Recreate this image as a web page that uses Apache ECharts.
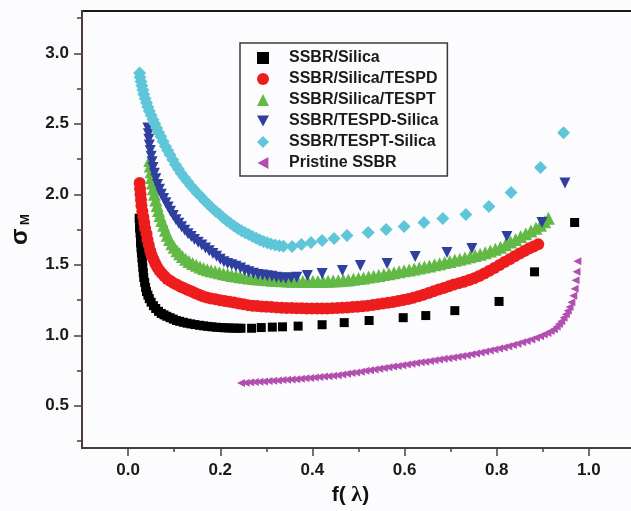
<!DOCTYPE html>
<html>
<head>
<meta charset="utf-8">
<script src="https://cdn.jsdelivr.net/npm/echarts@6/dist/echarts.min.js"></script>
<style>
  html, body { margin: 0; padding: 0; overflow: hidden; background: #fcfcfe; }
  #chart { width: 640px; height: 511px; }
</style>
</head>
<body>
<div id="chart"></div>
<script>
// f(lambda) vs reduced stress sigma_M for the six compounds
const seriesNames = [
  'SSBR/Silica',
  'SSBR/Silica/TESPD',
  'SSBR/Silica/TESPT',
  'SSBR/TESPD-Silica',
  'SSBR/TESPT-Silica',
  'Pristine SSBR'
];

const ssbrSilica = [
  [0.024,1.83],[0.025,1.795],[0.025,1.76],[0.026,1.725],[0.027,1.69],[0.027,1.655],[0.028,1.62],[0.029,1.585],
  [0.030,1.55],[0.031,1.515],[0.032,1.48],[0.033,1.445],[0.034,1.41],[0.036,1.375],[0.038,1.34],[0.040,1.31],
  [0.043,1.285],[0.046,1.26],[0.050,1.235],[0.055,1.21],[0.060,1.19],[0.066,1.17],[0.072,1.155],[0.078,1.145],
  [0.084,1.135],[0.091,1.125],[0.098,1.115],[0.105,1.105],[0.112,1.099],[0.120,1.092],[0.128,1.086],[0.136,1.081],
  [0.145,1.076],[0.155,1.071],[0.164,1.067],[0.173,1.063],[0.182,1.06],[0.192,1.057],[0.201,1.055],[0.210,1.053],
  [0.219,1.052],[0.228,1.051],[0.237,1.050],[0.245,1.050],
  [0.268,1.05],[0.289,1.055],[0.313,1.058],[0.335,1.06],[0.369,1.065],[0.421,1.075],[0.469,1.09],[0.523,1.105],
  [0.597,1.125],[0.646,1.14],[0.709,1.175],[0.805,1.24],[0.882,1.45],[0.969,1.80]
];

const ssbrSilicaTespd = [
  [0.025,2.08],[0.026,2.04],[0.027,2.0],[0.028,1.96],[0.029,1.92],[0.031,1.88],[0.033,1.84],[0.035,1.80],
  [0.037,1.76],[0.040,1.72],[0.042,1.68],[0.045,1.64],[0.048,1.60],[0.051,1.57],[0.055,1.54],[0.059,1.51],
  [0.063,1.485],[0.068,1.46],[0.073,1.44],[0.079,1.418],[0.085,1.40],[0.092,1.385],[0.099,1.37],[0.106,1.358],
  [0.114,1.345],[0.122,1.333],[0.130,1.322],[0.138,1.31],[0.146,1.298],[0.154,1.287],[0.162,1.277],[0.171,1.268],
  [0.180,1.261],[0.190,1.255],[0.200,1.249],[0.210,1.243],[0.220,1.238],[0.230,1.232],[0.240,1.226],[0.250,1.22],
  [0.260,1.214],[0.270,1.21],[0.280,1.207],[0.290,1.205],[0.300,1.203],[0.311,1.20],[0.322,1.198],[0.333,1.196],
  [0.344,1.194],[0.355,1.193],[0.366,1.192],[0.377,1.191],[0.388,1.19],[0.399,1.19],[0.410,1.19],[0.421,1.19],
  [0.432,1.19],[0.443,1.191],[0.454,1.193],[0.465,1.195],[0.476,1.197],[0.487,1.20],[0.498,1.203],[0.509,1.206],
  [0.520,1.21],[0.531,1.215],[0.542,1.22],[0.553,1.225],[0.564,1.231],[0.575,1.237],[0.586,1.243],[0.597,1.25],
  [0.608,1.258],[0.619,1.267],[0.630,1.277],[0.641,1.288],[0.652,1.30],[0.663,1.312],[0.674,1.324],[0.685,1.336],
  [0.696,1.348],[0.707,1.36],[0.718,1.37],[0.729,1.38],[0.740,1.392],[0.751,1.405],[0.762,1.42],[0.773,1.438],
  [0.784,1.457],[0.795,1.477],[0.806,1.498],[0.817,1.52],[0.828,1.54],[0.839,1.56],[0.850,1.58],[0.860,1.598],
  [0.870,1.615],[0.880,1.63],[0.890,1.645]
];

const ssbrSilicaTespt = [
  [0.047,2.24],[0.048,2.20],[0.050,2.16],[0.051,2.12],[0.053,2.08],[0.055,2.04],[0.057,2.00],[0.060,1.96],
  [0.063,1.92],[0.066,1.885],[0.069,1.85],[0.073,1.815],[0.077,1.78],[0.081,1.745],[0.085,1.71],[0.090,1.68],
  [0.095,1.65],[0.100,1.625],[0.106,1.60],[0.112,1.578],[0.118,1.558],[0.125,1.54],[0.132,1.524],[0.140,1.51],
  [0.148,1.496],[0.156,1.484],[0.164,1.474],[0.172,1.465],[0.180,1.457],[0.189,1.45],[0.198,1.443],[0.207,1.437],
  [0.216,1.431],[0.225,1.425],[0.234,1.42],[0.243,1.415],[0.252,1.411],[0.262,1.407],[0.272,1.403],[0.282,1.40],
  [0.292,1.397],[0.302,1.394],[0.313,1.391],[0.324,1.389],[0.335,1.387],[0.346,1.385],[0.357,1.384],[0.368,1.383],
  [0.379,1.382],[0.390,1.382],[0.401,1.382],[0.412,1.382],[0.423,1.383],[0.434,1.384],[0.445,1.385],[0.456,1.387],
  [0.467,1.39],[0.478,1.393],[0.489,1.397],[0.500,1.402],[0.511,1.407],[0.522,1.413],[0.533,1.419],[0.544,1.425],
  [0.555,1.431],[0.566,1.437],[0.577,1.443],[0.588,1.45],[0.599,1.457],[0.610,1.464],[0.621,1.471],[0.632,1.478],
  [0.643,1.485],[0.654,1.492],[0.665,1.50],[0.676,1.508],[0.687,1.516],[0.698,1.524],[0.709,1.532],[0.720,1.54],
  [0.731,1.548],[0.742,1.557],[0.753,1.566],[0.764,1.575],[0.775,1.585],[0.786,1.597],[0.797,1.61],[0.808,1.625],
  [0.819,1.643],[0.830,1.662],[0.841,1.68],[0.852,1.70],[0.863,1.72],[0.874,1.74],[0.885,1.76],[0.895,1.78],
  [0.904,1.805],[0.912,1.83]
];

const ssbrTespdSilica = [
  [0.043,2.47],[0.044,2.43],[0.045,2.39],[0.046,2.35],[0.048,2.31],[0.050,2.27],[0.052,2.23],[0.054,2.19],
  [0.057,2.15],[0.060,2.11],[0.064,2.07],[0.068,2.035],[0.072,2.00],[0.077,1.97],[0.082,1.94],[0.087,1.91],
  [0.092,1.88],[0.098,1.85],[0.104,1.82],[0.110,1.795],[0.116,1.77],[0.123,1.745],[0.130,1.72],[0.137,1.70],
  [0.144,1.68],[0.152,1.66],[0.160,1.64],[0.168,1.62],[0.176,1.60],[0.184,1.58],[0.192,1.56],[0.200,1.54],
  [0.208,1.522],[0.216,1.51],[0.225,1.50],[0.234,1.49],[0.244,1.478],[0.253,1.462],[0.262,1.45],[0.272,1.44],
  [0.282,1.432],[0.292,1.427],[0.302,1.423],[0.312,1.418],[0.322,1.412],[0.332,1.408],[0.342,1.405],[0.354,1.408],
  [0.366,1.411],[0.389,1.425],[0.421,1.439],[0.465,1.46],[0.504,1.495],[0.562,1.51],[0.623,1.559],[0.692,1.587],
  [0.746,1.616],[0.822,1.70],[0.898,1.80],[0.948,2.08]
];

const ssbrTesptSilica = [
  [0.025,2.86],[0.026,2.83],[0.028,2.80],[0.030,2.77],[0.032,2.74],[0.034,2.71],[0.037,2.68],[0.040,2.65],
  [0.043,2.62],[0.046,2.59],[0.050,2.56],[0.054,2.53],[0.058,2.50],[0.062,2.47],[0.066,2.44],[0.071,2.41],
  [0.076,2.375],[0.081,2.34],[0.086,2.31],[0.091,2.28],[0.097,2.245],[0.103,2.21],[0.109,2.18],[0.115,2.15],
  [0.122,2.12],[0.129,2.09],[0.136,2.06],[0.143,2.035],[0.150,2.01],[0.158,1.985],[0.166,1.955],[0.174,1.93],
  [0.182,1.905],[0.190,1.88],[0.198,1.86],[0.206,1.835],[0.214,1.815],[0.222,1.795],[0.230,1.775],[0.238,1.758],
  [0.246,1.742],[0.254,1.728],[0.262,1.715],[0.270,1.70],[0.278,1.688],[0.286,1.676],[0.294,1.666],[0.302,1.657],
  [0.310,1.648],[0.319,1.641],[0.328,1.635],[0.337,1.631],
  [0.356,1.63],[0.376,1.644],[0.397,1.658],[0.421,1.672],[0.447,1.686],[0.475,1.707],[0.521,1.729],[0.560,1.75],
  [0.599,1.771],[0.642,1.80],[0.683,1.828],[0.733,1.856],[0.783,1.913],[0.831,2.012],[0.895,2.19],[0.945,2.437]
];

const pristineSsbr = [
  [0.245,0.662],[0.255,0.664],[0.265,0.667],[0.275,0.669],[0.285,0.671],[0.295,0.673],[0.305,0.676],[0.315,0.678],
  [0.325,0.68],[0.335,0.683],[0.345,0.685],[0.355,0.687],[0.365,0.689],[0.375,0.692],[0.385,0.695],[0.395,0.698],
  [0.405,0.701],[0.415,0.704],[0.425,0.707],[0.435,0.71],[0.445,0.713],[0.455,0.717],[0.465,0.722],[0.475,0.727],
  [0.485,0.732],[0.495,0.737],[0.505,0.742],[0.515,0.748],[0.525,0.753],[0.535,0.758],[0.545,0.763],[0.555,0.768],
  [0.565,0.773],[0.575,0.778],[0.585,0.783],[0.595,0.788],[0.605,0.793],[0.615,0.798],[0.625,0.803],[0.635,0.808],
  [0.645,0.813],[0.655,0.818],[0.665,0.823],[0.675,0.828],[0.685,0.833],[0.695,0.838],[0.705,0.843],[0.715,0.848],
  [0.725,0.853],[0.735,0.859],[0.745,0.865],[0.755,0.871],[0.765,0.878],[0.775,0.885],[0.785,0.892],[0.795,0.899],
  [0.805,0.906],[0.815,0.914],[0.825,0.922],[0.835,0.931],[0.845,0.94],[0.855,0.95],[0.865,0.96],[0.875,0.971],
  [0.885,0.982],[0.894,0.993],[0.902,1.005],[0.910,1.017],[0.917,1.03],[0.924,1.043],[0.930,1.06],[0.935,1.08],
  [0.940,1.10],[0.945,1.125],[0.950,1.15],[0.954,1.175],[0.958,1.20],[0.962,1.235],[0.966,1.28],[0.969,1.33],
  [0.971,1.39],[0.973,1.45],[0.975,1.525]
];

// axis ticks
const xMajorTicks = [0, 0.2, 0.4, 0.6, 0.8, 1.0];
const xMinorTicks = [0.1, 0.3, 0.5, 0.7, 0.9];
const yMajorTicks = [0.5, 1.0, 1.5, 2.0, 2.5, 3.0];
const yMinorTicks = [0.25, 0.75, 1.25, 1.75, 2.25, 2.75, 3.25];

const FONT = '"Liberation Sans", Arial, Helvetica, sans-serif';
const AXIS_COLOR = '#4a3d39';

const downTri = 'path://M0,0 L10,0 L5,9 Z';
const leftTri = 'path://M9,0 L9,10 L0,5 Z';

const styles = [
  { data: ssbrSilica,      symbol: 'rect',     size: 9,  legendSize: 9,  color: '#000000' },
  { data: ssbrSilicaTespd, symbol: 'circle',   size: 12, legendSize: 10, color: '#ee1d1d' },
  { data: ssbrSilicaTespt, symbol: 'triangle', size: 13, legendSize: 11, color: '#63b945' },
  { data: ssbrTespdSilica, symbol: downTri,    size: 11, legendSize: 11, color: '#2f3f9f' },
  { data: ssbrTesptSilica, symbol: 'diamond',  size: 13, legendSize: 12, color: '#5ec6d8' },
  { data: pristineSsbr,    symbol: leftTri,    size: 8,  legendSize: 8,  color: '#b14fb0' }
];

const chart = echarts.init(document.getElementById('chart'), null, { renderer: 'canvas' });

const xBase = { type: 'value', min: -0.1, max: 1.1, splitLine: { show: false } };
const yBase = { type: 'value', min: 0.2, max: 3.3, splitLine: { show: false } };

chart.setOption({
  animation: false,
  backgroundColor: '#fcfcfe',
  grid: {
    left: 81, top: 11, width: 554, height: 438,
    show: true, borderColor: '#1a1a1a', borderWidth: 2, backgroundColor: 'transparent'
  },
  legend: {
    orient: 'vertical',
    left: 240, top: 43,
    padding: [7, 9, 5, 17],
    itemWidth: 12, itemHeight: 12, itemGap: 5,
    borderColor: '#3a3a3a', borderWidth: 1.5,
    backgroundColor: '#fcfcfe',
    textStyle: { fontFamily: FONT, fontWeight: 'bold', fontSize: 16, color: '#1a1a1a', padding: [0, 0, 0, 15] },
    data: seriesNames.map((n, i) => ({ name: n, icon: styles[i].symbol }))
  },
  xAxis: [
    Object.assign({}, xBase, {
      position: 'bottom',
      name: '{a|f(}{b| λ}{a|)}',
      nameLocation: 'middle', nameGap: 33,
      nameTextStyle: {
        padding: [0, 16, 0, 0],
        rich: {
          a: { fontFamily: FONT, fontWeight: 'bold', fontSize: 21, color: '#111' },
          b: { fontFamily: '"Liberation Serif", "Times New Roman", serif', fontWeight: 'bold', fontSize: 22, color: '#111' }
        }
      },
      axisLine: { show: true, onZero: false, lineStyle: { color: AXIS_COLOR, width: 2 } },
      axisTick: { show: true, inside: false, length: 8, customValues: xMajorTicks, lineStyle: { color: AXIS_COLOR, width: 1.5 } },
      axisLabel: {
        customValues: xMajorTicks, margin: 14,
        fontFamily: FONT, fontWeight: 'bold', fontSize: 17, color: '#1a1a1a',
        formatter: v => v.toFixed(1)
      }
    }),
    Object.assign({}, xBase, {
      position: 'bottom',
      axisLine: { show: false, onZero: false },
      axisTick: { show: true, inside: false, length: 4, customValues: xMinorTicks, lineStyle: { color: AXIS_COLOR, width: 1.5 } },
      axisLabel: { show: false }
    })
  ],
  yAxis: [
    Object.assign({}, yBase, {
      position: 'left',
      name: '{s|σ}{m| M}',
      nameLocation: 'middle', nameGap: 50, nameRotate: 90,
      nameTextStyle: {
        rich: {
          s: { fontFamily: FONT, fontWeight: 'bold', fontSize: 24, color: '#111' },
          m: { fontFamily: FONT, fontWeight: 'bold', fontSize: 13, color: '#111', verticalAlign: 'bottom' }
        }
      },
      axisLine: { show: true, onZero: false, lineStyle: { color: AXIS_COLOR, width: 2 } },
      axisTick: { show: true, inside: false, length: 8, customValues: yMajorTicks, lineStyle: { color: AXIS_COLOR, width: 1.5 } },
      axisLabel: {
        customValues: yMajorTicks, margin: 13,
        fontFamily: FONT, fontWeight: 'bold', fontSize: 17, color: '#1a1a1a',
        formatter: v => v.toFixed(1)
      }
    }),
    Object.assign({}, yBase, {
      position: 'left',
      axisLine: { show: false, onZero: false },
      axisTick: { show: true, inside: false, length: 5, customValues: yMinorTicks, lineStyle: { color: AXIS_COLOR, width: 1.5 } },
      axisLabel: { show: false }
    })
  ],
  series: styles.map((s, i) => ({
    name: seriesNames[i],
    type: 'scatter',
    xAxisIndex: 0, yAxisIndex: 0,
    data: s.data,
    symbol: s.symbol,
    symbolSize: s.size,
    itemStyle: { color: s.color, opacity: 1 },
    emphasis: { disabled: true }
  }))
});
</script>
</body>
</html>
